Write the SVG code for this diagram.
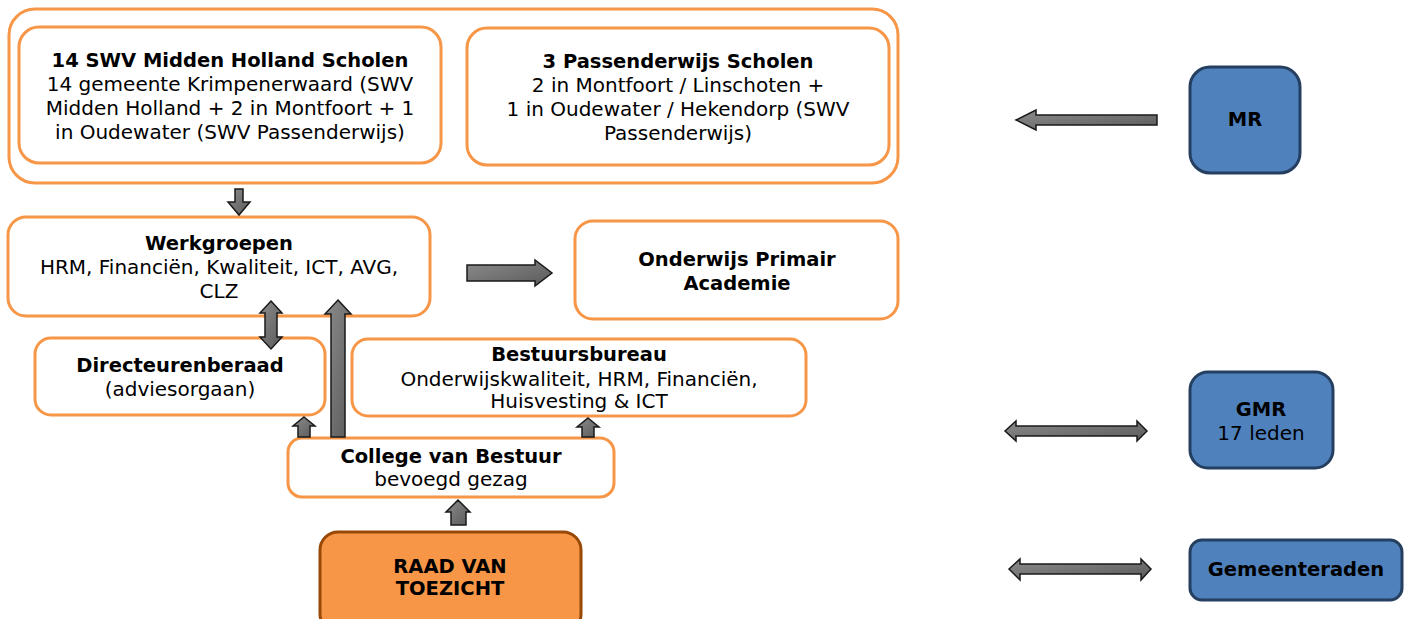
<svg xmlns="http://www.w3.org/2000/svg" width="1407" height="619" viewBox="0 0 1407 619">
<defs>
<linearGradient id="g" x1="0" y1="0" x2="1" y2="1">
<stop offset="0" stop-color="#8c8c8c"/>
<stop offset="1" stop-color="#5a5a5a"/>
</linearGradient>
</defs>
<style>
.o{fill:#fff;stroke:#F79646;stroke-width:3}
.b{fill:#4F81BD;stroke:#243F60;stroke-width:3}
.r{fill:#F79646;stroke:#984807;stroke-width:3}
.a{fill:url(#g);stroke:#1a1a1a;stroke-width:1.5;stroke-linejoin:miter}
text{font-family:"DejaVu Sans",Verdana,sans-serif;font-size:20px;fill:#000;text-anchor:middle}
.t{font-weight:bold;font-size:19.5px}
</style>
<rect width="1407" height="619" fill="#fff"/>
<g id="scholen">
<rect class="o" x="9" y="9" width="889" height="174" rx="26"/>
</g>
<g id="swv-midden-holland">
<rect class="o" x="19" y="27" width="422" height="136" rx="20"/>
<text class="t" x="230" y="67">14 SWV Midden Holland Scholen</text>
<text x="230" y="91">14 gemeente Krimpenerwaard (SWV</text>
<text x="230" y="115">Midden Holland + 2 in Montfoort + 1</text>
<text x="230" y="139">in Oudewater (SWV Passenderwijs)</text>
</g>
<g id="passenderwijs">
<rect class="o" x="467" y="28" width="422" height="137" rx="20"/>
<text class="t" x="678" y="68">3 Passenderwijs Scholen</text>
<text x="678" y="92">2 in Montfoort / Linschoten +</text>
<text x="678" y="116">1 in Oudewater / Hekendorp (SWV</text>
<text x="678" y="140">Passenderwijs)</text>
</g>
<g id="werkgroepen">
<rect class="o" x="8" y="217" width="422" height="99" rx="18"/>
<text class="t" x="219" y="250">Werkgroepen</text>
<text x="219" y="274">HRM, Financiën, Kwaliteit, ICT, AVG,</text>
<text x="219" y="298">CLZ</text>
</g>
<g id="opa">
<rect class="o" x="575" y="221" width="323" height="98" rx="18"/>
<text class="t" x="737" y="266">Onderwijs Primair</text>
<text class="t" x="737" y="290">Academie</text>
</g>
<g id="directeurenberaad">
<rect class="o" x="35" y="338" width="290" height="77" rx="16"/>
<text class="t" x="180" y="372">Directeurenberaad</text>
<text x="180" y="396">(adviesorgaan)</text>
</g>
<g id="bestuursbureau">
<rect class="o" x="352" y="339" width="454" height="77" rx="16"/>
<text class="t" x="579" y="361">Bestuursbureau</text>
<text x="579" y="386">Onderwijskwaliteit, HRM, Financiën,</text>
<text x="579" y="408">Huisvesting &amp; ICT</text>
</g>
<g id="college">
<rect class="o" x="288" y="438" width="326" height="59" rx="14"/>
<text class="t" x="451" y="463">College van Bestuur</text>
<text x="451" y="486">bevoegd gezag</text>
</g>
<g id="rvt">
<rect class="r" x="320" y="532" width="261" height="100" rx="18"/>
<text class="t" x="450" y="573">RAAD VAN</text>
<text class="t" x="450" y="595">TOEZICHT</text>
</g>
<g id="mr">
<rect class="b" x="1190" y="67" width="110" height="106" rx="20"/>
<text class="t" x="1245" y="126">MR</text>
</g>
<g id="gmr">
<rect class="b" x="1190" y="372" width="143" height="96" rx="18"/>
<text class="t" x="1261" y="416">GMR</text>
<text x="1261" y="440">17 leden</text>
</g>
<g id="gemeenteraden">
<rect class="b" x="1190" y="540" width="212" height="60" rx="12"/>
<text class="t" x="1296" y="576">Gemeenteraden</text>
</g>
<g id="connectors">
<polygon class="a" points="235,189 243,189 243,202 250,202 239,215 228,202 235,202"/>
<polygon class="a" points="467,265 535,265 535,260 552,273 535,286 535,281 467,281"/>
<polygon class="a" points="271,301 282,313 277,313 277,337 282,337 271,349 260,337 265,337 265,313 260,313"/>
<polygon class="a" points="338,300 351,314 345,314 345,437 331,437 331,314 325,314"/>
<polygon class="a" points="304,417 315,426 310,426 310,437 298,437 298,426 293,426"/>
<polygon class="a" points="588,418 599,427 594,427 594,437 582,437 582,427 577,427"/>
<polygon class="a" points="458,500 470,512 466,512 466,525 451,525 451,512 446,512"/>
<polygon class="a" points="1016,120 1036,110 1036,115 1157,115 1157,125 1036,125 1036,130"/>
<polygon class="a" points="1005,431 1016,421 1016,426 1137,426 1137,421 1147,431 1137,441 1137,436 1016,436 1016,441"/>
<polygon class="a" points="1009,569 1020,559 1020,564 1141,564 1141,559 1151,569 1141,580 1141,574 1020,574 1020,580"/>
</g>
</svg>
